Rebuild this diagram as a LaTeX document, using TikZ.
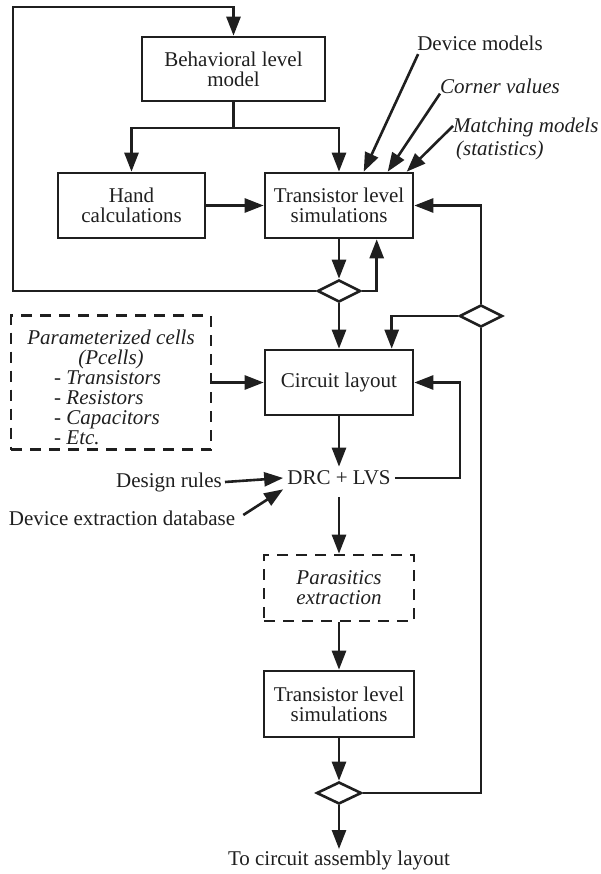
\documentclass[tikz,border=0pt]{standalone}
\usepackage{fontspec}
\setmainfont{Liberation Serif}
\usetikzlibrary{arrows.meta,shapes.geometric,calc}
\begin{document}
\begin{tikzpicture}[x=1pt,y=-1pt,
  lw/.style={line width=2.6pt, color=black!88},
  arr/.style={lw,-{Triangle[length=19pt,width=14pt]}},
  txt/.style={font=\fontsize{21}{20}\selectfont, text=black!88},
  itxt/.style={font=\fontsize{21}{20}\selectfont\itshape, text=black!88},
  box/.style={draw,lw,txt,align=center,inner sep=0pt,minimum width=148pt,minimum height=65pt},
  dbox/.style={draw,lw,dash pattern=on 11pt off 8pt,itxt,align=center,inner sep=0pt},
  dia/.style={diamond,draw,lw,inner sep=0pt,minimum width=43pt,minimum height=22pt}
]
\useasboundingbox (0,0) rectangle (601,874);

% boxes
\node[box,minimum width=183pt,minimum height=64pt] (beh) at (233.5,69) {Behavioral level\\model};
\node[box,minimum width=147pt] (hand) at (131.5,205.5) {Hand\\calculations};
\node[box] (ts1) at (339,205.5) {Transistor level\\simulations};
\node[box] (cl) at (339,382.5) {Circuit layout};
\node[dbox,minimum width=200pt,minimum height=134pt] (pc) at (111,382.5) {};
\node[itxt,align=center,inner sep=0pt] (pct) at (111,349) {Parameterized cells\\(Pcells)};
\node[itxt,align=left,inner sep=0pt,anchor=west] (pcl) at (54,408) {- Transistors\\- Resistors\\- Capacitors\\- Etc.};
\node[txt,inner sep=4pt] (drc) at (339,478) {DRC + LVS};
\node[txt,inner sep=3pt] (dr) at (169,482) {Design rules};
\node[txt,inner sep=3pt] (dx) at (122,518) {Device extraction database};
\node[dbox,minimum width=150pt,minimum height=66pt] (par) at (339,588) {Parasitics\\extraction};
\node[box,minimum width=150pt,minimum height=66pt] (ts2) at (339,704) {Transistor level\\simulations};
\node[txt,inner sep=2pt,anchor=north] (out) at (339,849) {To circuit assembly layout};

% labels
\node[txt,inner sep=0pt] (dm) at (480,43) {Device models};
\node[itxt,inner sep=0pt] (cv) at (500,86) {Corner values};
\node[itxt,inner sep=0pt,anchor=west] (mm) at (453,127) {Matching models};
\node[itxt,inner sep=0pt,anchor=west] (st) at (456,150) {(statistics)};

% diamonds
\node[dia] (d1) at (339,291) {};
\node[dia] (d2) at (481,316) {};
\node[dia,minimum width=45pt] (d3) at (339,793) {};

% coordinates
\coordinate (lb) at (13,291);
\coordinate (lt) at (13,7);
\coordinate (sp) at (233.5,128);
\coordinate (rb) at (460,0);

% connectors
\draw[arr] (d1.west) -- (lb) -- (lt) -| (beh.north);
\draw[lw] (beh.south) -- (sp);
\draw[arr] (sp) -| (hand.north);
\draw[arr] (sp) -| (ts1.north);
\draw[arr] (hand) -- (ts1);
\draw[arr] ([shift={(1pt,-3.5pt)}]dm.south west) -- ($(ts1.north west)+(100,0)$);
\draw[arr] (cv.south west) -- ($(ts1.north west)+(124,0)$);
\draw[arr] ([yshift=1pt]mm.west) -- ($(ts1.north west)+(143,0)$);
\draw[arr] (ts1.south) -- (d1.north);
\draw[arr] (d1.east) -| ($(ts1.south west)+(113,0)$);
\draw[arr] (d1.south) -- (cl.north);
\draw[arr] (d2.north) |- (ts1.east);
\draw[arr] (d2.west) -| ($(cl.north west)+(128,0)$);
\draw[lw] (d3.east) -| (d2.south);
\draw[arr] (pc.east) -- (cl.west);
\draw[arr] (cl.south) -- (drc.north);
\draw[arr] (drc.east) -- (drc.east -| rb) |- (cl.east);
\draw[arr] (dr.east) -- (drc.west);
\draw[arr] ([shift={(5pt,3pt)}]dx.east) -- (drc.south west);
\draw[arr] ([yshift=-8pt]drc.south) -- (par.north);
\draw[arr] (par) -- (ts2);
\draw[arr] (ts2) -- (d3);
\draw[arr] (d3) -- (out);
\end{tikzpicture}
\end{document}
